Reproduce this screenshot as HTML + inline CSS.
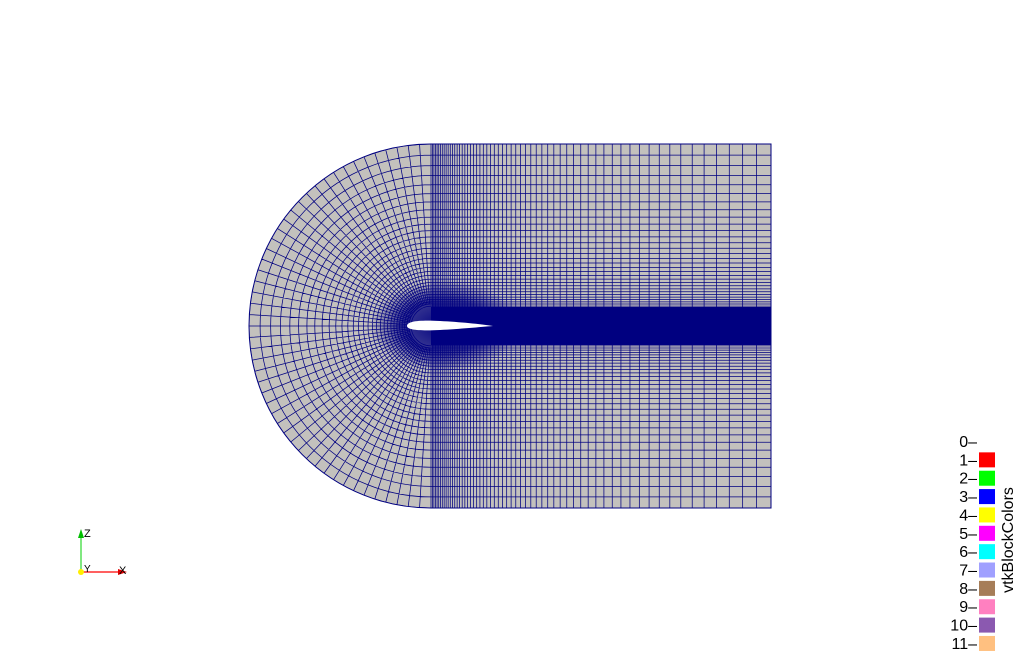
<!DOCTYPE html>
<html><head><meta charset="utf-8"><style>
html,body{margin:0;padding:0;background:#fff;}
svg{display:block;font-family:"Liberation Sans",sans-serif;}
</style></head><body>
<svg id="s" width="1021" height="655" viewBox="0 0 1021 655">
<defs>
<clipPath id="dom"><path d="M431,144 A182,182 0 0 0 431,508 L771,508 L771,144 Z"/></clipPath>
<radialGradient id="blob" cx="0.5" cy="0.5" r="0.5">
<stop offset="0" stop-color="#000080" stop-opacity="1"/>
<stop offset="0.6" stop-color="#000080" stop-opacity="0.7"/>
<stop offset="1" stop-color="#000080" stop-opacity="0"/>
</radialGradient>
</defs>
<g id="mesh" clip-path="url(#dom)">
<path d="M431,144 A182,182 0 0 0 431,508 L771,508 L771,144 Z" fill="#c3c1bd"/>
</g>
<path d="M431,144 A182,182 0 0 0 431,508 L771,508 L771,144 Z" fill="none" stroke="#000080" stroke-width="1"/>
<path d="M407,326 C407,321 420,320 440,321 C460,322 480,324 493,326 C480,327 460,329 440,330 C420,331 407,330 407,326 Z" fill="#fff"/>
<g>
<line x1="81" y1="572" x2="81" y2="536" stroke="#00d000" stroke-width="1"/>
<polygon points="78,538 84,538 81,529" fill="#00c000"/>
<line x1="81" y1="572" x2="120" y2="572" stroke="#ff0000" stroke-width="1.2"/>
<polygon points="118,569 118,575 127,572" fill="#e00000"/>
<circle cx="81" cy="572" r="3" fill="#ffee00"/>
<text x="84" y="537" font-size="11">Z</text>
<text x="84" y="572" font-size="10">Y</text>
<text x="119" y="574" font-size="11">X</text>
</g>
<g id="legend">
<text x="1013" y="540" font-size="16" text-anchor="middle" transform="rotate(-90 1013 540)">vtkBlockColors</text>
</g>
</svg>
<script>
const labels=["0","1","2","3","4","5","6","7","8","9","10","11"];
const colors=[null,"#ff0000","#00ff00","#0000ff","#ffff00","#ff00ff","#00ffff","#a0a0ff","#a67d58","#ff80c0","#8b59b0","#ffc080"];
const NS="http://www.w3.org/2000/svg";
const mesh=document.getElementById('mesh'),leg=document.getElementById('legend');
function mk(t,a,p){const e=document.createElementNS(NS,t);for(const k in a)e.setAttribute(k,a[k]);(p||mesh).appendChild(e);return e;}
const cx=431,cy=326,R=182;
const ds=[];const N=45,r=1.06;for(let k=1;k<=N;k++)ds.push(R*(Math.pow(r,k)-1)/(Math.pow(r,N)-1));
let d="";
ds.forEach(v=>{d+=`M${cx},${cy-v}H771M${cx},${cy+v}H771`;if(v>18)d+=`M${cx},${cy-v}A${v},${v} 0 0 0 ${cx},${cy+v}`;});
const M=60,q=1.04;for(let k=1;k<=M;k++){const x=cx+340*(Math.pow(q,k)-1)/(Math.pow(q,M)-1);d+=`M${x.toFixed(2)},144V508`;}
for(let i=0;i<=50;i++){const a=Math.PI/2+Math.PI*i/50;d+=`M${(cx+22*Math.cos(a)).toFixed(2)},${(cy-22*Math.sin(a)).toFixed(2)}L${(cx+R*Math.cos(a)).toFixed(2)},${(cy-R*Math.sin(a)).toFixed(2)}`;}
const g=mk('path',{d:d,stroke:'#000080','stroke-width':'0.75',fill:'none'});


const w=mk('rect',{x:431,y:307,width:340,height:38,fill:'#000080'});


const b=mk('ellipse',{cx:445,cy:326,rx:75,ry:45,fill:'url(#blob)'});


labels.forEach((l,i)=>{const y=441+i*18.36;
const t=mk('text',{x:977,y:y+6,'font-size':'16','text-anchor':'end'},leg);t.textContent=l+"–";


if(colors[i]){const s=mk('rect',{x:979,y:y-7,width:16,height:15,fill:colors[i]},leg);

}
});
</script>
</body></html>
